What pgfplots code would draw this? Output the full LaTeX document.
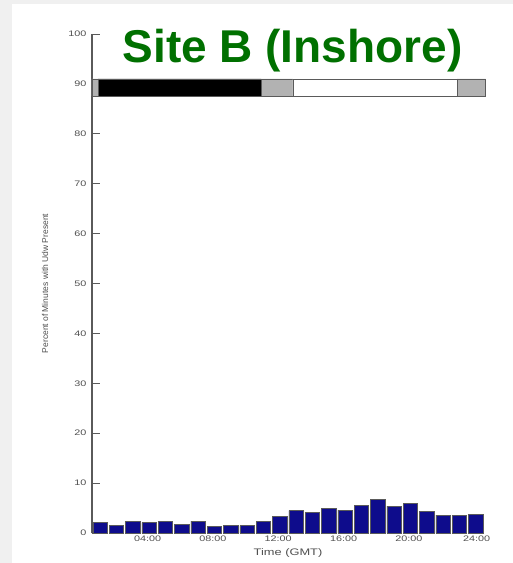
\documentclass[border=0pt]{standalone}
\usepackage{pgfplots}
\pgfplotsset{compat=1.18}
\usepackage{fontspec}
\setmainfont{Liberation Sans}
\definecolor{bgGray}{RGB}{240,240,240}
\definecolor{barBlue}{RGB}{14,12,140}
\definecolor{titleGreen}{RGB}{0,112,0}
\definecolor{axGray}{RGB}{90,90,90}
\definecolor{txtGray}{RGB}{80,80,80}
\definecolor{bandGray}{RGB}{178,178,178}
\newcommand{\wide}[1]{\scalebox{1.35}[1]{#1}}
\pgfplotstableread{
h v
1 2.1
2 1.6
3 2.3
4 2.1
5 2.3
6 1.7
7 2.4
8 1.3
9 1.5
10 1.5
11 2.3
12 3.3
13 4.5
14 4.1
15 5.0
16 4.6
17 5.5
18 6.8
19 5.4
20 6.0
21 4.3
22 3.6
23 3.5
24 3.7
}\datatable
\begin{document}
\begin{tikzpicture}
\fill[bgGray] (0,0) rectangle (513pt,563pt);
\fill[white] (12pt,0) rectangle (513pt,559pt);
\begin{axis}[
  at={(92pt,30pt)}, anchor=south west,
  scale only axis, width=392pt, height=499pt,
  xmin=0.5, xmax=24.5, ymin=0, ymax=100,
  clip=false,
  axis lines*=left,
  axis line style={axGray, line width=1.2pt},
  x axis line style={draw=none},
  xtick={3.9,7.9,11.9,15.9,19.9,24.05},
  xticklabels={\wide{04:00},\wide{08:00},\wide{12:00},\wide{16:00},\wide{20:00},\wide{24:00}},
  x tick style={draw=none},
  ytick={0,10,...,100},
  yticklabel={\wide{\pgfmathprintnumber[assume math mode=true]{\tick}}},
  y tick style={axGray, line width=0.6pt},
  tick align=inside, major tick length=8pt,
  tick label style={font=\fontsize{8}{9}\selectfont, text=txtGray},
  xticklabel style={yshift=1pt},
  yticklabel style={xshift=-2pt},
  xlabel={\wide{Time (GMT)}},
  xlabel style={at={(axis description cs:0.5,0)}, anchor=center, yshift=-20pt, font=\fontsize{9.5}{10}\selectfont, text=txtGray},
  ylabel={Percent of Minutes with Udw Present},
  ylabel style={at={(axis description cs:0,0.5)}, anchor=center, yshift=47pt, font=\fontsize{8.5}{9}\selectfont, text=txtGray},
]
\addplot[ybar, bar width=0.88, fill=barBlue, draw=axGray, line width=0.4pt] table[x=h,y=v] {\datatable};
% day/night band
\addplot[fill=bandGray, draw=axGray, line width=0.5pt] coordinates {(0.5,87.6) (0.87,87.6) (0.87,91) (0.5,91) (0.5,87.6)};
\addplot[fill=black, draw=axGray, line width=0.5pt] coordinates {(0.87,87.6) (10.85,87.6) (10.85,91) (0.87,91) (0.87,87.6)};
\addplot[fill=bandGray, draw=axGray, line width=0.5pt] coordinates {(10.85,87.6) (12.8,87.6) (12.8,91) (10.85,91) (10.85,87.6)};
\addplot[fill=white, draw=axGray, line width=0.5pt] coordinates {(12.8,87.6) (22.85,87.6) (22.85,91) (12.8,91) (12.8,87.6)};
\addplot[fill=bandGray, draw=axGray, line width=0.5pt] coordinates {(22.85,87.6) (24.6,87.6) (24.6,91) (22.85,91) (22.85,87.6)};
\end{axis}
\node[anchor=base, text=titleGreen, font=\fontsize{46}{50}\selectfont\bfseries] at (292.5pt,500pt) {Site B (Inshore)};
\end{tikzpicture}
\end{document}
